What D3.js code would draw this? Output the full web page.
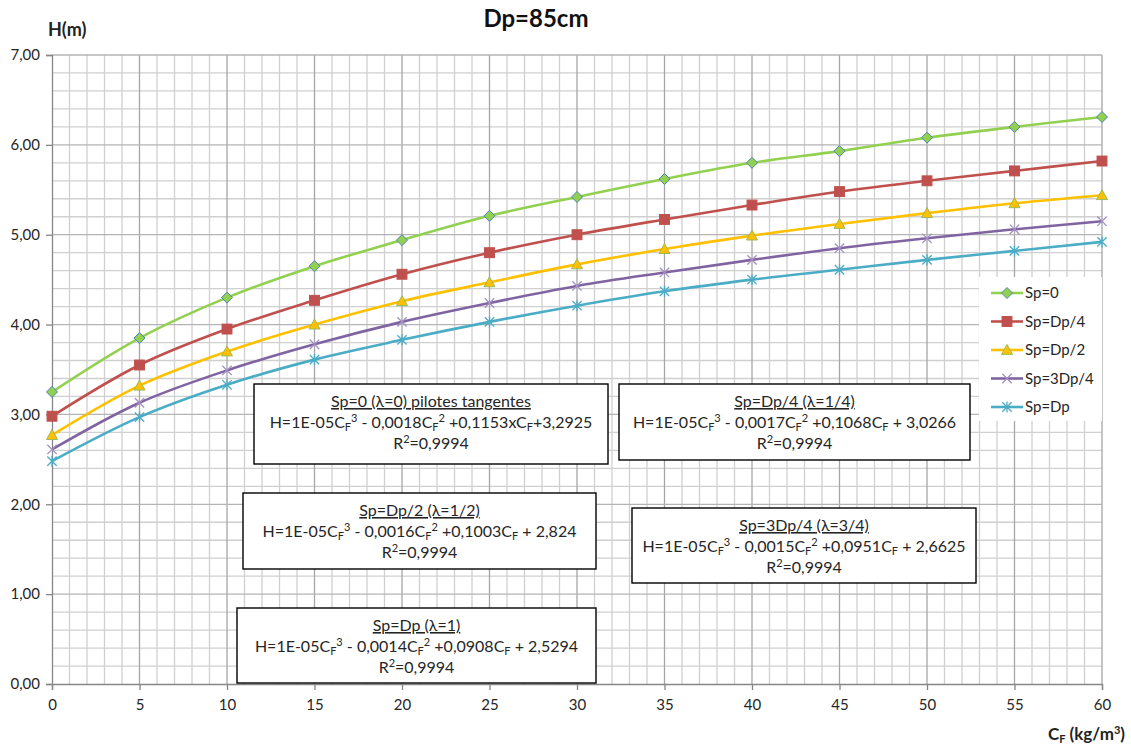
<!DOCTYPE html>
<html>
<head>
<meta charset="utf-8">
<script src="https://cdn.jsdelivr.net/npm/d3@7"></script>
<style>
  html, body { margin: 0; padding: 0; background: #fff; }
  svg { display: block; font-family: Lato, "Liberation Sans", sans-serif; }
</style>
</head>
<body>
<svg id="chart" width="1131" height="744"></svg>
<script>
// Fibre dosage C_F (kg/m3)
const cf = [0, 5, 10, 15, 20, 25, 30, 35, 40, 45, 50, 55, 60];

// Height H (m) for each pile spacing
const hSp0     = [3.25, 3.85, 4.30, 4.65, 4.94, 5.21, 5.42, 5.62, 5.80, 5.93, 6.08, 6.20, 6.31];
const hSpDp4   = [2.98, 3.55, 3.95, 4.27, 4.56, 4.80, 5.00, 5.17, 5.33, 5.48, 5.60, 5.71, 5.82];
const hSpDp2   = [2.77, 3.32, 3.70, 4.00, 4.26, 4.47, 4.67, 4.84, 4.99, 5.12, 5.24, 5.35, 5.44];
const hSp3Dp4  = [2.61, 3.13, 3.49, 3.78, 4.03, 4.24, 4.43, 4.58, 4.72, 4.85, 4.96, 5.06, 5.15];
const hSpDp    = [2.48, 2.97, 3.33, 3.61, 3.83, 4.03, 4.21, 4.37, 4.50, 4.61, 4.72, 4.82, 4.92];

const seriesNames = ["Sp=0", "Sp=Dp/4", "Sp=Dp/2", "Sp=3Dp/4", "Sp=Dp"];
const seriesValues = [hSp0, hSpDp4, hSpDp2, hSp3Dp4, hSpDp];

const xTicks = [0, 5, 10, 15, 20, 25, 30, 35, 40, 45, 50, 55, 60];
const yTicks = [0, 1, 2, 3, 4, 5, 6, 7];

// Regression boxes: underlined heading, equation (_F = subscript F, ^n = superscript), R²
const fitTitles = ["Sp=0 (λ=0) pilotes tangentes", "Sp=Dp/4 (λ=1/4)", "Sp=Dp/2 (λ=1/2)", "Sp=3Dp/4 (λ=3/4)", "Sp=Dp (λ=1)"];
const fitEquations = [
  "H=1E-05C_F^3 - 0,0018C_F^2 +0,1153xC_F+3,2925",
  "H=1E-05C_F^3 - 0,0017C_F^2 +0,1068C_F + 3,0266",
  "H=1E-05C_F^3 - 0,0016C_F^2 +0,1003C_F + 2,824",
  "H=1E-05C_F^3 - 0,0015C_F^2 +0,0951C_F + 2,6625",
  "H=1E-05C_F^3 - 0,0014C_F^2 +0,0908C_F + 2,5294"
];
const fitR2 = ["0,9994", "0,9994", "0,9994", "0,9994", "0,9994"];

// ---- layout & styles ----
const svg = d3.select("#chart");
const x = d3.scaleLinear().domain([0, 60]).range([52, 1102]);
const y = d3.scaleLinear().domain([0, 7]).range([684, 55]);

const styles = [
  { line: "#92D050", fill: "#92D050", stroke: "#4F81BD", shape: "diamond" },
  { line: "#C0504D", fill: "#C0504D", stroke: "#C0504D", shape: "square" },
  { line: "#FFC000", fill: "#FFC000", stroke: "#9BBB59", shape: "triangle" },
  { line: "#8064A2", fill: "none",    stroke: "#A58FC4", shape: "x" },
  { line: "#4BACC6", fill: "none",    stroke: "#4BACC6", shape: "star" }
];
const boxes = [
  { x: 254, y: 384, w: 354, h: 80 },
  { x: 619, y: 384, w: 351, h: 76 },
  { x: 243, y: 493, w: 353, h: 76 },
  { x: 632, y: 508, w: 344, h: 75 },
  { x: 237, y: 608, w: 359, h: 75 }
];
const textColor = "#262626";

// ---- grid ----
const grid = svg.append("g");
grid.selectAll(".vmin").data(d3.range(0, 61, 1).filter(v => v % 5 !== 0))
  .join("line").attr("x1", d => x(d)).attr("x2", d => x(d))
  .attr("y1", y(0)).attr("y2", y(7)).attr("stroke", "#D0D0D0").attr("stroke-width", 1.3);
grid.selectAll(".hmin").data(d3.range(0, 35, 1).filter(v => v % 5 !== 0).map(v => v * 0.2))
  .join("line").attr("y1", d => y(d)).attr("y2", d => y(d))
  .attr("x1", x(0)).attr("x2", x(60)).attr("stroke", "#D0D0D0").attr("stroke-width", 1.3);
grid.selectAll(".vmaj").data(xTicks.slice(1))
  .join("line").attr("x1", d => x(d)).attr("x2", d => x(d))
  .attr("y1", y(0)).attr("y2", y(7)).attr("stroke", "#A6A6A6").attr("stroke-width", 1.3);
grid.selectAll(".hmaj").data(yTicks.slice(1))
  .join("line").attr("y1", d => y(d)).attr("y2", d => y(d))
  .attr("x1", x(0)).attr("x2", x(60)).attr("stroke", "#B4B4B4").attr("stroke-width", 1.3);

// ---- axes ----
const comma = d => d3.format(".2f")(d).replace(".", ",");
const yAxis = svg.append("g").attr("transform", `translate(${x(0)},0)`)
  .call(d3.axisLeft(y).tickValues(yTicks).tickFormat(comma).tickSize(6).tickPadding(6));
const xAxis = svg.append("g").attr("transform", `translate(0,${y(0)})`)
  .call(d3.axisBottom(x).tickValues(xTicks).tickFormat(d3.format("d")).tickSize(6).tickPadding(9));
[yAxis, xAxis].forEach(a => {
  a.select(".domain").attr("stroke", "#868686").attr("stroke-width", 1.3);
  a.selectAll(".tick line").attr("stroke", "#868686").attr("stroke-width", 1.3);
  a.selectAll(".tick text").attr("fill", textColor).style("font-size", "15px").style("font-family", "Lato, sans-serif");
});

// ---- markers ----
function marker(sel, s, size) {
  const h = size / 2;
  if (s.shape === "diamond") {
    sel.append("path").attr("d", `M0,${-h}L${h},0L0,${h}L${-h},0Z`)
      .attr("fill", s.fill).attr("stroke", s.stroke).attr("stroke-width", 1);
  } else if (s.shape === "square") {
    const q = h * 0.9;
    sel.append("rect").attr("x", -q).attr("y", -q).attr("width", 2 * q).attr("height", 2 * q)
      .attr("fill", s.fill).attr("stroke", s.stroke).attr("stroke-width", 1);
  } else if (s.shape === "triangle") {
    sel.append("path").attr("d", `M0,${-h}L${h},${h * 0.8}L${-h},${h * 0.8}Z`)
      .attr("fill", s.fill).attr("stroke", s.stroke).attr("stroke-width", 1);
  } else if (s.shape === "x") {
    const q = h * 0.85;
    sel.append("path").attr("d", `M${-q},${-q}L${q},${q}M${-q},${q}L${q},${-q}`)
      .attr("stroke", s.stroke).attr("stroke-width", 1.3).attr("fill", "none");
  } else {
    const q = h * 0.85;
    sel.append("path").attr("d", `M${-q},${-q}L${q},${q}M${-q},${q}L${q},${-q}M0,${-h}L0,${h}`)
      .attr("stroke", s.stroke).attr("stroke-width", 1.3).attr("fill", "none");
  }
}

// ---- series ----
const line = d3.line().x(d => x(d[0])).y(d => y(d[1])).curve(d3.curveCatmullRom.alpha(0.5));
seriesValues.forEach((vals, i) => {
  const pts = cf.map((c, k) => [c, vals[k]]);
  const g = svg.append("g");
  g.append("path").datum(pts).attr("d", line)
    .attr("fill", "none").attr("stroke", styles[i].line).attr("stroke-width", 2.6);
  g.selectAll("g.m").data(pts).join("g").attr("class", "m")
    .attr("transform", d => `translate(${x(d[0])},${y(d[1])})`)
    .each(function () { marker(d3.select(this), styles[i], 11); });
});

// ---- regression boxes ----
function richText(t, str, small) {
  const parts = str.split(/(_F|\^\d)/).filter(p => p !== "");
  let shifted = 0;
  parts.forEach(p => {
    if (p === "_F") {
      t.append("tspan").attr("dy", 3 - shifted).style("font-size", small).text("F");
      shifted = 3;
    } else if (p[0] === "^") {
      t.append("tspan").attr("dy", -6 - shifted).style("font-size", small).text(p.slice(1));
      shifted = -6;
    } else {
      t.append("tspan").attr("dy", -shifted).text(p);
      shifted = 0;
    }
  });
}
boxes.forEach((b, i) => {
  const g = svg.append("g");
  g.append("rect").attr("x", b.x).attr("y", b.y).attr("width", b.w).attr("height", b.h)
    .attr("fill", "#fff").attr("stroke", "#000").attr("stroke-width", 1.4);
  const cx = b.x + b.w / 2;
  g.append("text").attr("x", cx).attr("y", b.y + 23).attr("text-anchor", "middle")
    .attr("fill", textColor).style("font-size", "16px").style("text-decoration", "underline")
    .text(fitTitles[i]);
  const eq = g.append("text").attr("x", cx).attr("y", b.y + 44).attr("text-anchor", "middle")
    .attr("fill", textColor).style("font-size", "16px");
  richText(eq, fitEquations[i], "11px");
  const r2 = g.append("text").attr("x", cx).attr("y", b.y + 65).attr("text-anchor", "middle")
    .attr("fill", textColor).style("font-size", "16px");
  richText(r2, "R^2=" + fitR2[i], "11px");
});

// ---- legend ----
const lg = svg.append("g");
lg.append("rect").attr("x", 979).attr("y", 277).attr("width", 123).attr("height", 144).attr("fill", "#fff");
seriesNames.forEach((name, i) => {
  const ly = 293 + i * 28.5;
  lg.append("line").attr("x1", 991).attr("x2", 1023).attr("y1", ly).attr("y2", ly)
    .attr("stroke", styles[i].line).attr("stroke-width", 2.6);
  const m = lg.append("g").attr("transform", `translate(1007,${ly})`);
  marker(m, styles[i], 11);
  lg.append("text").attr("x", 1025).attr("y", ly + 5).attr("fill", textColor)
    .style("font-size", "15px").text(name);
});

// ---- titles ----
svg.append("text").attr("x", 536).attr("y", 27).attr("text-anchor", "middle")
  .style("font-size", "24px").style("font-weight", "bold").attr("fill", "#111").text("Dp=85cm");
svg.append("text").attr("x", 48).attr("y", 36)
  .style("font-size", "18px").style("font-weight", "bold").attr("fill", "#222").text("H(m)");
const xt = svg.append("text").attr("x", 1125).attr("y", 740).attr("text-anchor", "end")
  .style("font-size", "17px").style("font-weight", "bold").attr("fill", "#222");
xt.append("tspan").text("C");
xt.append("tspan").attr("dy", 3).style("font-size", "11px").text("F");
xt.append("tspan").attr("dy", -3).text(" (kg/m");
xt.append("tspan").attr("dy", -6).style("font-size", "11px").text("3");
xt.append("tspan").attr("dy", 6).text(")");
</script>
</body>
</html>
